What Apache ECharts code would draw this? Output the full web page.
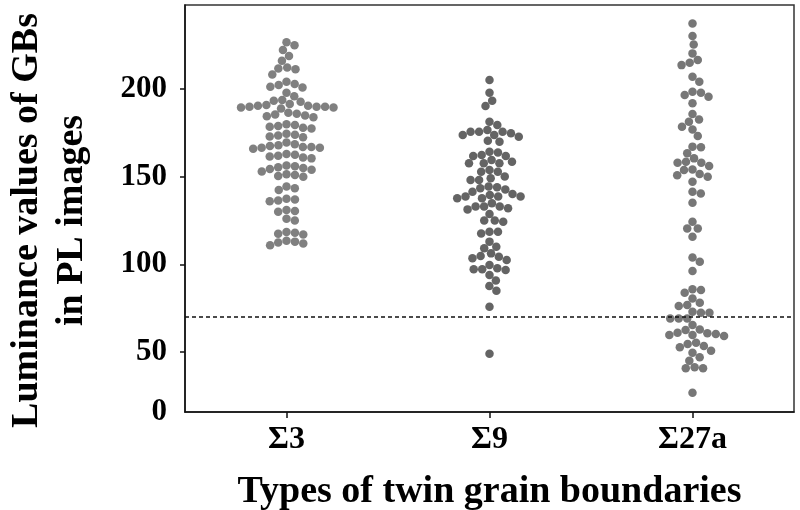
<!DOCTYPE html>
<html>
<head>
<meta charset="utf-8">
<script src="https://cdn.jsdelivr.net/npm/echarts@6/dist/echarts.min.js"></script>
<style>
  html, body { margin: 0; padding: 0; background: #fff; }
  #chart { width: 800px; height: 510px; }
</style>
</head>
<body>
<div id="chart"></div>
<script>
const categories = ['Σ3', 'Σ9', 'Σ27a'];

// luminance values, one entry per dot
const sigma3 = [
  226.7, 225.1, 222.3, 218.9, 216.2, 211.8, 211.3, 212.4, 208.4,
  204.2, 202.3, 201.0, 201.4, 202.9, 198.0, 196.0,
  193.8, 192.8, 193.4,
  190, 190, 190.5, 189.5, 190, 191, 189, 190.5, 189.5, 191.5,
  186, 185, 184.5, 185.5, 184, 186.5,
  179, 178.5, 180, 177.5, 179.5, 178,
  174, 173, 174.5, 172.5, 173.5,
  168, 167, 166.5, 167.5, 166, 168.5, 167, 166.5, 169.5,
  163, 161.5, 162, 160.5, 162.5, 161,
  156.5, 155, 154.5, 155.5, 154, 156, 153,
  151, 150, 151.5, 150.5,
  142.5, 143.5, 144.5,
  137, 136, 136.5, 137.5,
  130, 131, 130.5,
  125, 126,
  118, 117.5, 118.5, 117,
  113, 112, 113.5, 112.5, 111
];
const sigma9 = [
  205.2, 198, 193.4, 190.4, 181.4, 179.5,
  175.7, 175.7, 174.8, 173.8, 173.8, 176.7, 175.7, 170, 170.6, 172.9,
  164.3, 162.4, 161.9, 161.9, 163.8, 159.6, 157.7, 157.7, 157.7, 158.6,
  153.9, 152.9, 152.9, 150.1, 148.2, 148.2, 149.1,
  144.4, 143.4, 142.8, 144, 138.7, 138.7, 137.7, 137.7, 138.7, 139.6, 141.5, 140.2,
  133, 133, 132, 131.4, 133, 134.9, 128.8,
  125, 124.4, 125, 118.7, 117.7, 118.7,
  113, 109.2, 110.1,
  106.3, 103.5, 102.5, 104.4, 104.8, 99.7, 97.2, 96.8, 97.2, 97.8,
  94, 90.8, 87.7, 85,
  75.9, 49
];
const sigma27a = [
  237.5, 230.3, 225.5, 220.4, 215.1, 213.7, 216.6, 207.1, 204.2,
  198.5, 195.7, 196.6, 197.9, 191.9,
  185.8, 182.7, 181.4, 178.6, 177.0, 173.2,
  166.8, 167.2, 163.4,
  160.5, 158.6, 158.0, 156.1, 158.0, 154.2, 153.8, 151.6, 150.9, 150.0, 147.2,
  141.5, 140.5, 135.2,
  124.3, 120.5, 120.5, 115.8,
  104, 101.5, 96.2,
  83.9, 85.4, 85.8, 80.6, 76.8, 76.3, 78.1, 72.4, 72.4, 73, 69.2, 69.2, 69.2, 65.4,
  62.6, 60.7, 59.7, 59.1, 59.7, 60.3, 61, 62.9,
  55.3, 52.7, 54.6, 50.8, 53.4, 49.6,
  47, 45.1, 40.7, 40.7, 41.3,
  26.8
];
const yTicks = [50, 100, 150, 200];
const yMin = 15.8;
const yMax = 248;
const threshold = 70;

const FONT = 'Liberation Serif';
const DOT = 8.5;

const chart = echarts.init(document.getElementById('chart'));

chart.setOption({
  animation: false,
  backgroundColor: '#fff',
  grid: {
    left: 185, right: 6, top: 5, bottom: 98,
    outerBoundsMode: 'none',
    containLabel: false,
    show: true, borderColor: '#333', borderWidth: 1.5
  },
  xAxis: {
    type: 'value',
    min: -0.5,
    max: 2.5,
    splitLine: { show: false },
    axisLine: { show: true, onZero: false, lineStyle: { color: '#111', width: 1.5 } },
    axisTick: { show: true, customValues: [0, 1, 2], length: 6, lineStyle: { color: '#111', width: 1.5 } },
    axisLabel: {
      customValues: [0, 1, 2],
      formatter: v => categories[Math.round(v)],
      color: '#000', fontFamily: FONT, fontWeight: 'bold', fontSize: 32, margin: 12
    },
    name: 'Types of twin grain boundaries',
    nameLocation: 'middle',
    nameGap: 61,
    nameTextStyle: { color: '#000', fontFamily: FONT, fontWeight: 'bold', fontSize: 38 }
  },
  yAxis: {
    type: 'value',
    min: yMin,
    max: yMax,
    splitLine: { show: false },
    axisLine: { show: true, onZero: false, lineStyle: { color: '#111', width: 1.5 } },
    axisTick: { show: true, customValues: yTicks, length: 5, lineStyle: { color: '#111', width: 1.5 } },
    axisLabel: {
      customValues: [yMin].concat(yTicks),
      formatter: v => (v < 20 ? '0' : String(v)),
      color: '#000', fontFamily: FONT, fontWeight: 'bold', fontSize: 31, margin: 18
    },
    name: 'Luminance values of GBs\nin PL images',
    nameLocation: 'middle',
    nameRotate: 90,
    nameGap: 90,
    nameTextStyle: {
      color: '#000', fontFamily: FONT, fontWeight: 'bold', fontSize: 38,
      lineHeight: 45, align: 'center', padding: [0, 24, 0, 0]
    }
  },
  series: []
});

// beeswarm layout in pixel space: each dot goes to the free spot closest to the centre line
function swarm(vals, idx) {
  const x0 = chart.convertToPixel({ gridIndex: 0 }, [idx, 0])[0];
  const x1 = chart.convertToPixel({ gridIndex: 0 }, [idx + 1, 0])[0];
  const pxPerUnit = x1 - x0;
  const pts = vals.map(v => ({ v: v, py: chart.convertToPixel({ gridIndex: 0 }, [0, v])[1] }));
  pts.sort((a, b) => b.v - a.v);
  const placed = [];
  pts.forEach(p => {
    const cands = [0];
    placed.forEach(q => {
      const dy = Math.abs(q.py - p.py);
      if (dy < DOT) {
        const dx = Math.sqrt(DOT * DOT - dy * dy);
        cands.push(q.x + dx, q.x - dx);
      }
    });
    cands.sort((a, b) => Math.abs(a) - Math.abs(b));
    let best = 0;
    for (let i = 0; i < cands.length; i++) {
      const c = cands[i];
      const ok = placed.every(q => {
        const dx = q.x - c, dy = q.py - p.py;
        return dx * dx + dy * dy >= DOT * DOT - 0.01;
      });
      if (ok) { best = c; break; }
    }
    p.x = best;
    placed.push(p);
  });
  return pts.map(p => [idx + p.x / pxPerUnit, p.v]);
}

const groups = [sigma3, sigma9, sigma27a];
const colors = ['#606060', '#3d3d3d', '#555555'];

chart.setOption({
  series: groups.map((g, i) => ({
    type: 'scatter',
    name: categories[i],
    symbolSize: DOT,
    itemStyle: { color: colors[i] },
    data: swarm(g, i),
    markLine: i === 0 ? {
      silent: true,
      symbol: 'none',
      label: { show: false },
      lineStyle: { color: '#111', type: [4, 3], width: 1.5 },
      data: [{ yAxis: threshold }]
    } : undefined
  }))
});
</script>
</body>
</html>
